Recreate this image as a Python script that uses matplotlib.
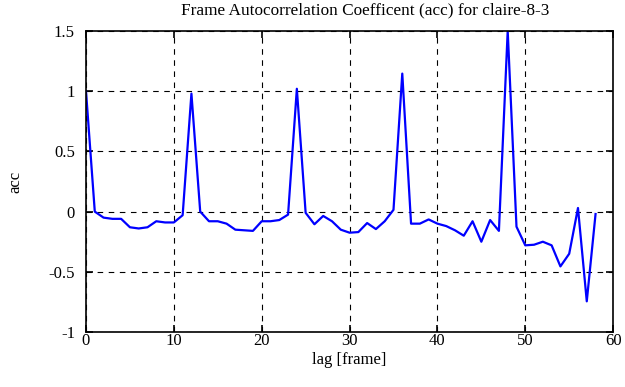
import matplotlib
matplotlib.use("Agg")
import matplotlib.pyplot as plt
import numpy as np

# ── data ────────────────────────────────────────────────────────────
lags = np.arange(0, 59)
acc = [
    1.00, 0.00, -0.05, -0.06, -0.06, -0.13, -0.14, -0.13, -0.08, -0.09,
    -0.09, -0.03, 0.98, 0.00, -0.08, -0.08, -0.10, -0.15, -0.155, -0.16,
    -0.08, -0.08, -0.07, -0.025, 1.02, -0.01, -0.105, -0.036, -0.08, -0.15,
    -0.175, -0.17, -0.095, -0.145, -0.08, 0.015, 1.146, -0.10, -0.10, -0.065,
    -0.10, -0.12, -0.155, -0.20, -0.08, -0.25, -0.07, -0.16, 1.50, -0.125,
    -0.28, -0.275, -0.25, -0.28, -0.455, -0.35, 0.03, -0.745, -0.02,
]
xticks = [0, 10, 20, 30, 40, 50, 60]
yticks = [-1, -0.5, 0, 0.5, 1, 1.5]
ytick_labels = ["-1", "-0.5", "0", "0.5", "1", "1.5"]

plt.rcParams["font.family"] = ["Liberation Serif", "DejaVu Serif"]
plt.rcParams["font.size"] = 12

fig = plt.figure(figsize=(6.25, 3.87), dpi=100)
ax = fig.add_axes([0.1376, 0.142, 0.8434, 0.778])

ax.plot(lags, acc, color="#0000ff", linewidth=1.6)

ax.set_xlim(0, 60)
ax.set_ylim(-1, 1.5)
ax.set_xticks(xticks)
ax.set_yticks(yticks)
ax.set_yticklabels(ytick_labels)
ax.grid(True, color="black", linestyle=(0, (5, 5)), linewidth=0.8)
ax.tick_params(direction="in", top=True, right=True, length=5, width=1.2,
               labelsize=12)
ax.tick_params(axis="y", pad=8)
ax.tick_params(axis="x", pad=1)
for sp in ax.spines.values():
    sp.set_linewidth(1.2)

ax.set_xlabel("lag [frame]", labelpad=2)
ax.set_ylabel("acc", labelpad=18)
# title sits a little right of the axes centre in the original
ax.set_title("Frame Autocorrelation Coefficent (acc) for claire-8-3",
             fontsize=12.4, pad=12, x=0.53)

fig.savefig("out.png", dpi=100)
